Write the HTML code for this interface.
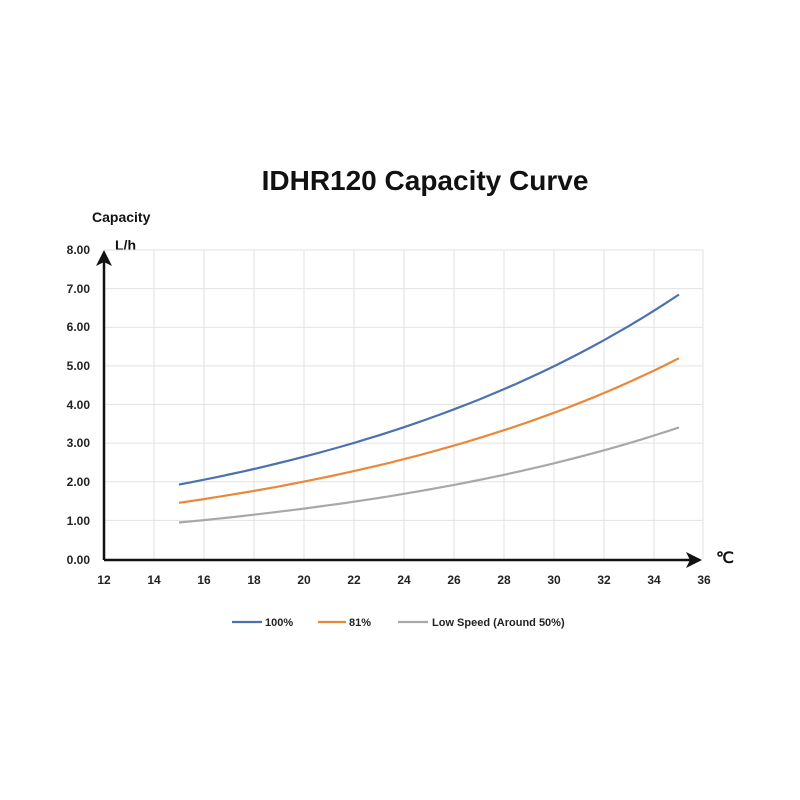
<!DOCTYPE html>
<html><head><style>body{margin:0;background:#fff}svg{display:block}</style></head><body>
<svg width="800" height="800" xmlns="http://www.w3.org/2000/svg" font-family="Liberation Sans, sans-serif">
<rect width="800" height="800" fill="#fff"/>
<text x="425" y="190" font-size="28" font-weight="bold" text-anchor="middle" fill="#111">IDHR120  Capacity Curve</text>
<text x="92" y="222" font-size="14" font-weight="bold" fill="#111">Capacity</text>
<text x="115" y="250" font-size="14" font-weight="bold" fill="#111">L/h</text>
<g stroke="#e2e2e2" stroke-width="1">
<line x1="104" y1="250" x2="703" y2="250"/><line x1="104" y1="288.6" x2="703" y2="288.6"/>
<line x1="104" y1="327.3" x2="703" y2="327.3"/><line x1="104" y1="365.9" x2="703" y2="365.9"/>
<line x1="104" y1="404.5" x2="703" y2="404.5"/><line x1="104" y1="443.1" x2="703" y2="443.1"/>
<line x1="104" y1="481.8" x2="703" y2="481.8"/><line x1="104" y1="520.4" x2="703" y2="520.4"/>
<line x1="154" y1="250" x2="154" y2="559"/><line x1="204" y1="250" x2="204" y2="559"/>
<line x1="254" y1="250" x2="254" y2="559"/><line x1="304" y1="250" x2="304" y2="559"/>
<line x1="354" y1="250" x2="354" y2="559"/><line x1="404" y1="250" x2="404" y2="559"/>
<line x1="454" y1="250" x2="454" y2="559"/><line x1="504" y1="250" x2="504" y2="559"/>
<line x1="554" y1="250" x2="554" y2="559"/><line x1="604" y1="250" x2="604" y2="559"/>
<line x1="654" y1="250" x2="654" y2="559"/><line x1="703" y1="250" x2="703" y2="559"/>
</g>
<line x1="104" y1="560" x2="694" y2="560" stroke="#111" stroke-width="2.5"/>
<line x1="104" y1="560" x2="104" y2="258" stroke="#111" stroke-width="2.5"/>
<path d="M104 250 L96 266 L104 262 L112 266Z" fill="#111"/>
<path d="M702 560 L686 552 L690 560 L686 568Z" fill="#111"/>
<text x="716" y="563" font-size="16" font-weight="bold" fill="#111">℃</text>
<g font-size="12" font-weight="bold" fill="#222" text-anchor="end">
<text x="90" y="254">8.00</text><text x="90" y="293">7.00</text><text x="90" y="331">6.00</text>
<text x="90" y="370">5.00</text><text x="90" y="409">4.00</text><text x="90" y="447">3.00</text>
<text x="90" y="486">2.00</text><text x="90" y="525">1.00</text><text x="90" y="564">0.00</text>
</g>
<g font-size="12" font-weight="bold" fill="#222" text-anchor="middle">
<text x="104" y="584">12</text><text x="154" y="584">14</text><text x="204" y="584">16</text>
<text x="254" y="584">18</text><text x="304" y="584">20</text><text x="354" y="584">22</text>
<text x="404" y="584">24</text><text x="454" y="584">26</text><text x="504" y="584">28</text>
<text x="554" y="584">30</text><text x="604" y="584">32</text><text x="654" y="584">34</text>
<text x="704" y="584">36</text>
</g>
<g fill="none" stroke-width="2.2">
<path id="c1" stroke="#4a72b0" d=""/>
<path id="c2" stroke="#e8893a" d=""/>
<path id="c3" stroke="#a8a8a8" d=""/>
</g>
<line x1="232" y1="622" x2="262" y2="622" stroke="#4a72b0" stroke-width="2.2"/>
<text x="265" y="626" font-size="11" font-weight="bold" fill="#222">100%</text>
<line x1="318" y1="622" x2="346" y2="622" stroke="#e8893a" stroke-width="2.2"/>
<text x="349" y="626" font-size="11" font-weight="bold" fill="#222">81%</text>
<line x1="398" y1="622" x2="428" y2="622" stroke="#a8a8a8" stroke-width="2.2"/>
<text x="432" y="626" font-size="11" font-weight="bold" fill="#222">Low Speed (Around 50%)</text>
<script>
function mk(id,a,b){var k=Math.log(b/a)/20,d="";for(var t=15;t<=35.001;t+=0.5){var v=a*Math.exp(k*(t-15));var x=104+(t-12)*25,y=560-v*38.65;d+=(d?"L":"M")+x.toFixed(1)+" "+y.toFixed(1);}document.getElementById(id).setAttribute("d",d);}
mk("c1",1.95,6.87);mk("c2",1.48,5.22);mk("c3",0.97,3.43);
</script>
</svg>
</body></html>
